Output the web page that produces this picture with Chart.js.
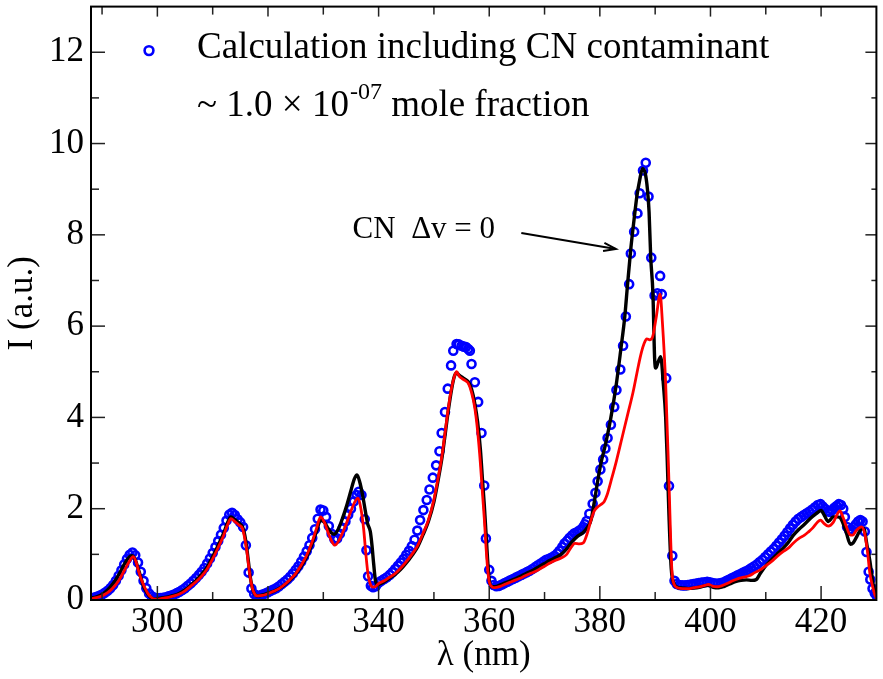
<!DOCTYPE html>
<html>
<head>
<meta charset="utf-8">
<script src="https://cdn.jsdelivr.net/npm/chart.js@4.4.1/dist/chart.umd.min.js"></script>
<style>
  html, body { margin: 0; padding: 0; background: #fff; }
  #wrap { width: 883px; height: 679px; }
</style>
</head>
<body>
<div id="wrap"><canvas id="spec" width="883" height="679"></canvas></div>
<script>
// 축 눈금
const xTicks = [300, 320, 340, 360, 380, 400, 420];
const xMinorTicks = [290, 310, 330, 350, 370, 390, 410];
const yTicks = [0, 2, 4, 6, 8, 10, 12];
const yMinorTicks = [1, 3, 5, 7, 9, 11];

// 검은 선 (CN 포함 계산)
const blackLambda = [288,289,290,291,292,293,294,294.8,295.4,296,296.5,297,297.5,298,298.5,299,299.5,300,
  301,302,303,304,305,306,307,308,309,310,311,312,312.7,313.3,314,314.8,315.4,315.8,316.2,316.5,316.8,317.2,317.6,318,319,320,
  321,322,323,324,325,326,327,328,328.8,329.5,330.2,330.8,331.4,332,332.7,333.5,334.3,335,335.6,336.1,336.6,337.1,337.6,338,338.5,338.8,339.1,339.4,339.8,340.2,
  341,342,343,344,345,346,347,348,349,350,350.8,351.5,352,352.6,353.2,353.7,354.1,354.6,355.1,355.6,356.2,356.8,357.4,357.9,358.4,358.8,359.1,359.4,359.7,360,360.4,
  361,362,363,364,365,366,367,368,369,370,371,372,373,374,375,376,377,377.8,378.4,379,379.6,380.2,381,382,383,383.8,384.5,385,385.6,386.2,386.7,387.2,387.7,388.2,388.6,388.9,389.2,389.6,389.9,390.1,390.5,391,391.5,391.9,392.2,392.5,392.9,393.4,394,
  395,396,397,398,399,399.6,400.5,401.5,402.5,403.5,404.5,405.5,406.5,407.5,408.3,409,410,411,412,413,414,415,416,417,418,419,420,420.6,421.3,422.2,423,423.6,424.5,425.3,425.8,426.5,427.2,427.7,428.3,428.8,429.4,430];
const blackI = [0.04,0.07,0.12,0.22,0.36,0.55,0.78,0.93,0.97,0.88,0.7,0.5,0.3,0.18,0.09,0.04,0.02,0.03,
  0.05,0.07,0.1,0.15,0.22,0.32,0.43,0.56,0.72,0.95,1.2,1.47,1.7,1.82,1.76,1.68,1.6,1.42,1.1,0.8,0.5,0.25,0.13,0.09,0.11,0.15,
  0.19,0.25,0.33,0.44,0.57,0.74,0.95,1.24,1.52,1.75,1.7,1.58,1.48,1.44,1.55,1.8,2.1,2.4,2.65,2.74,2.58,2.3,1.95,1.68,1.5,1.2,0.8,0.45,0.33,0.35,
  0.4,0.48,0.56,0.67,0.81,0.97,1.15,1.42,1.72,2.15,2.65,3.15,3.6,4.15,4.62,4.9,4.98,4.92,4.88,4.84,4.78,4.62,4.3,3.9,3.3,2.6,2.1,1.5,0.9,0.45,0.3,
  0.29,0.33,0.38,0.43,0.48,0.54,0.6,0.66,0.73,0.8,0.87,0.93,1.0,1.12,1.28,1.4,1.48,1.6,1.75,2.15,2.6,3.0,3.4,4.0,4.75,5.5,6.2,6.9,7.7,8.35,8.85,9.2,9.45,9.35,9.0,8.5,7.5,6.7,5.3,5.08,5.2,5.33,4.7,4.0,3.0,1.85,0.7,0.36,0.28,
  0.26,0.25,0.26,0.28,0.31,0.32,0.28,0.27,0.3,0.35,0.4,0.43,0.44,0.43,0.45,0.58,0.75,0.88,1.0,1.12,1.25,1.42,1.55,1.66,1.78,1.88,1.96,1.85,1.72,1.82,1.82,1.78,1.5,1.22,1.25,1.4,1.55,1.57,1.2,0.87,0.35,0.07];

// 빨간 선
const redLambda = [288,289,290,291,292,293,294,295,295.6,296.1,296.5,297,297.7,298.3,298.9,299.5,300,
  301,302,303,304,305,306,307,308,309,310,311,312,312.7,313.3,314,314.8,315.4,315.8,316.2,316.5,316.8,317.2,317.6,318,319,320,
  321,322,323,324,325,326,327,328,328.8,329.5,330.2,330.8,331.4,332.1,332.8,333.5,334.3,335,335.7,336.3,336.8,337.3,337.7,338.1,338.5,339,339.5,340,
  341,342,343,344,345,346,347,348,349,350,350.8,351.5,352,352.6,353.2,353.7,354.1,354.6,355.1,355.6,356.2,356.8,357.4,357.9,358.4,358.8,359.1,359.4,359.7,360,360.4,
  361,362,363,364,365,366,367,368,369,370,371,372,373,374,374.8,375.5,376.3,377,377.7,378.4,379,379.6,380.3,380.8,381.3,382,383,384,385,386,387,387.5,388,388.5,389,389.5,390.2,390.9,391.3,391.9,392.5,393,393.4,394,
  395,396,397,398,399,399.6,400.5,401.2,402,403,404,405,406,407,408,409,410,411,412,413,414,415,416,417,417.7,418.5,419.3,419.9,420.5,421.3,422.2,422.8,423.4,424,424.6,425.3,425.7,426.4,427.3,427.9,428.4,428.8,429.3,429.7,430.1];
const redI = [0.03,0.05,0.09,0.16,0.27,0.42,0.64,0.86,0.95,0.85,0.68,0.48,0.28,0.14,0.06,0.02,0.02,
  0.04,0.06,0.09,0.13,0.2,0.3,0.4,0.52,0.68,0.9,1.15,1.42,1.65,1.78,1.72,1.64,1.56,1.35,1.05,0.75,0.48,0.25,0.13,0.09,0.1,0.14,
  0.19,0.25,0.34,0.45,0.58,0.76,0.98,1.28,1.58,1.82,1.7,1.5,1.32,1.2,1.3,1.48,1.72,1.95,2.15,2.23,2.0,1.55,1.0,0.55,0.35,0.28,0.3,0.36,
  0.42,0.5,0.58,0.7,0.84,1.0,1.18,1.45,1.75,2.2,2.7,3.2,3.65,4.2,4.65,4.9,5.0,4.9,4.85,4.81,4.75,4.55,4.2,3.7,3.0,2.3,1.8,1.2,0.7,0.4,0.3,
  0.27,0.3,0.35,0.4,0.45,0.5,0.56,0.61,0.67,0.74,0.81,0.87,0.92,1.0,1.15,1.24,1.23,1.25,1.45,1.75,1.95,2.04,2.1,2.16,2.3,2.6,3.05,3.55,4.05,4.55,5.15,5.42,5.62,5.72,5.7,5.75,6.2,6.7,6.1,4.74,2.56,0.7,0.35,0.27,
  0.25,0.25,0.27,0.29,0.32,0.34,0.3,0.29,0.31,0.36,0.42,0.47,0.5,0.53,0.6,0.66,0.75,0.84,0.95,1.05,1.13,1.25,1.35,1.42,1.49,1.58,1.7,1.75,1.68,1.62,1.7,1.85,1.95,1.8,1.6,1.42,1.42,1.53,1.6,1.45,1.05,0.6,0.3,0.12,0.02];

// 파란 원 (CN 오염 포함 계산)
const blueLambda = [288.1,288.5,289,289.5,290,290.5,291,291.5,292,292.5,293,293.5,294,294.5,295,295.5,296,296.5,297,297.5,298,298.5,299,299.5,300,
  300.5,301,301.5,302,302.5,303,303.5,304,304.5,305,305.5,306,306.5,307,307.5,308,308.5,309,309.5,310,310.5,311,311.5,312,312.5,313,313.5,314,314.5,315,315.5,316,316.5,317,317.5,318,
  318.5,319,319.5,320,320.5,321,321.5,322,322.5,323,323.5,324,324.5,325,325.5,326,326.5,327,327.5,328,328.5,329,329.5,330,330.5,331,331.5,332,332.5,333,333.5,334,334.5,335,335.5,336,336.4,336.9,337.5,337.8,338.1,338.6,339,339.5,340,
  340.5,341,341.5,342,342.5,343,343.5,344,344.5,345,345.5,346,346.5,347,347.5,348.1,348.7,349.2,349.8,350.4,351,351.4,352,352.5,353.1,353.5,354.1,354.5,355,355.4,355.8,356.2,356.5,356.8,357.4,358,358.6,359.1,359.4,360,360.4,
  360.8,361.3,361.8,362.3,362.8,363.3,363.8,364.3,364.8,365.3,365.8,366.3,366.8,367.3,367.8,368.3,368.8,369.3,369.8,370.3,370.8,371.3,371.8,372.3,372.7,373.2,373.6,374.1,374.5,375,375.4,375.9,376.3,376.7,377,377.3,377.6,378.1,378.7,379.2,379.6,380.1,380.6,381,381.4,382,382.6,383,383.7,384.2,384.7,385.3,385.6,386.2,386.8,387.2,387.8,388.3,388.8,389.3,389.9,390.4,390.9,391.2,392,392.5,393.1,393.5,393.9,
  394.4,394.9,395.4,395.9,396.4,396.9,397.4,397.9,398.4,398.9,399.4,399.9,400.4,400.9,401.4,401.9,402.4,402.9,403.4,403.9,404.4,404.9,405.4,405.9,406.4,406.9,407.4,407.9,408.4,408.9,409.4,409.9,410.4,410.9,411.4,411.9,412.4,412.9,413.4,413.9,414.4,414.9,415.4,415.9,416.4,416.9,417.4,417.9,418.4,418.9,419.4,419.9,420.3,420.7,421.2,421.6,422,422.4,422.8,423.2,423.6,424,424.3,424.7,425.1,425.5,425.9,426.3,426.7,427.1,427.5,427.9,428.2,428.6,428.9,429.3,429.7,430.1];
const blueI = [0.04,0.05,0.07,0.09,0.12,0.16,0.2,0.26,0.33,0.42,0.53,0.65,0.78,0.9,0.99,1.04,0.98,0.82,0.62,0.42,0.26,0.14,0.08,0.05,0.04,
  0.04,0.05,0.06,0.08,0.1,0.12,0.15,0.18,0.22,0.26,0.31,0.36,0.42,0.48,0.55,0.62,0.7,0.8,0.91,1.03,1.16,1.29,1.43,1.58,1.74,1.87,1.91,1.86,1.77,1.7,1.6,1.2,0.6,0.25,0.13,0.09,
  0.1,0.12,0.14,0.17,0.2,0.23,0.26,0.3,0.35,0.4,0.45,0.51,0.58,0.66,0.74,0.84,0.95,1.07,1.2,1.36,1.55,1.78,1.98,1.96,1.82,1.62,1.45,1.33,1.35,1.45,1.58,1.72,1.87,2.0,2.16,2.3,2.37,2.3,1.77,1.09,0.52,0.31,0.28,0.3,0.38,
  0.42,0.46,0.5,0.55,0.61,0.68,0.75,0.82,0.9,0.99,1.08,1.18,1.32,1.52,1.75,1.97,2.19,2.42,2.68,2.95,3.26,3.66,4.12,4.63,5.14,5.46,5.61,5.6,5.57,5.55,5.54,5.5,5.46,5.17,4.77,4.34,3.66,2.51,1.35,0.66,0.42,
  0.33,0.3,0.31,0.34,0.37,0.4,0.43,0.46,0.49,0.52,0.55,0.58,0.61,0.64,0.68,0.72,0.76,0.8,0.84,0.88,0.9,0.93,0.97,1.02,1.08,1.16,1.24,1.3,1.36,1.42,1.46,1.49,1.52,1.55,1.6,1.66,1.73,1.89,2.11,2.35,2.6,2.86,3.08,3.32,3.55,3.84,4.23,4.6,5.05,5.57,6.21,6.92,7.59,8.07,8.47,8.91,9.41,9.58,8.84,7.5,6.67,6.72,7.1,6.7,4.86,2.5,0.97,0.42,0.35,
  0.33,0.32,0.32,0.33,0.34,0.35,0.36,0.37,0.38,0.39,0.4,0.39,0.37,0.36,0.36,0.37,0.39,0.42,0.45,0.48,0.51,0.54,0.57,0.6,0.63,0.66,0.7,0.74,0.78,0.83,0.88,0.94,1.0,1.06,1.12,1.19,1.26,1.33,1.41,1.49,1.57,1.65,1.72,1.78,1.82,1.86,1.9,1.94,1.98,2.03,2.08,2.1,2.05,2.0,1.95,1.93,1.97,2.02,2.06,2.1,2.08,2.0,1.82,1.6,1.52,1.55,1.6,1.66,1.72,1.75,1.72,1.5,1.05,0.62,0.45,0.25,0.15,0.08];

// 화살표 주석 위치 (데이터 좌표)
const noteText = 'CN  \u0394v = 0';
const notePos = [335.3, 7.94];
const arrowFrom = [365.8, 8.04];
const arrowTo = [382.9, 7.69];

const SERIF = '"Liberation Serif", "Times New Roman", serif';

function toXY(xs, ys) {
  return xs.map((x, i) => ({ x, y: ys[i] }));
}

// 안쪽으로 향하는 눈금 + 테두리
const frameTicks = {
  id: 'frameTicks',
  afterDraw(chart) {
    const { ctx, chartArea: a, scales: { x, y } } = chart;
    ctx.save();
    ctx.strokeStyle = '#222';
    ctx.lineWidth = 1.5;
    const seg = (x1, y1, x2, y2) => { ctx.beginPath(); ctx.moveTo(x1, y1); ctx.lineTo(x2, y2); ctx.stroke(); };
    xTicks.forEach(v => { const p = x.getPixelForValue(v); seg(p, a.bottom, p, a.bottom - 14); seg(p, a.top, p, a.top + 10); });
    xMinorTicks.forEach(v => { const p = x.getPixelForValue(v); seg(p, a.bottom, p, a.bottom - 8); seg(p, a.top, p, a.top + 8); });
    yTicks.forEach(v => { const p = y.getPixelForValue(v); seg(a.left, p, a.left + 14, p); seg(a.right, p, a.right - 11, p); });
    yMinorTicks.forEach(v => { const p = y.getPixelForValue(v); seg(a.left, p, a.left + 8, p); seg(a.right, p, a.right - 5, p); });
    ctx.strokeStyle = '#000';
    ctx.lineWidth = 2;
    ctx.strokeRect(a.left, a.top, a.right - a.left, a.bottom - a.top);
    ctx.restore();
  }
};

// 범례 + 주석
const notes = {
  id: 'notes',
  afterDraw(chart) {
    const { ctx, chartArea: a, scales: { x, y } } = chart;
    ctx.save();
    ctx.fillStyle = '#000';
    ctx.textBaseline = 'alphabetic';
    ctx.textAlign = 'left';

    // 범례
    const lx = a.left + 58, ly = a.top + 44;
    ctx.strokeStyle = '#0000ff';
    ctx.lineWidth = 2.6;
    ctx.beginPath(); ctx.arc(lx, ly, 4.4, 0, Math.PI * 2); ctx.stroke();
    ctx.font = '37px ' + SERIF;
    ctx.fillText('Calculation including CN contaminant', a.left + 106, a.top + 51);
    let tx = a.left + 106;
    const by = a.top + 109;
    ctx.fillText('~ 1.0 \u00d7 10', tx, by);
    tx += ctx.measureText('~ 1.0 \u00d7 10').width;
    ctx.font = '24px ' + SERIF;
    ctx.fillText('-07', tx + 1, by - 17);
    tx += ctx.measureText('-07').width + 1;
    ctx.font = '37px ' + SERIF;
    ctx.fillText(' mole fraction', tx, by);

    // CN 주석 + 화살표
    ctx.font = '31px ' + SERIF;
    ctx.fillText(noteText, x.getPixelForValue(notePos[0]), y.getPixelForValue(notePos[1]));
    const x1 = x.getPixelForValue(arrowFrom[0]), y1 = y.getPixelForValue(arrowFrom[1]);
    const x2 = x.getPixelForValue(arrowTo[0]), y2 = y.getPixelForValue(arrowTo[1]);
    ctx.strokeStyle = '#000';
    ctx.lineWidth = 2;
    ctx.beginPath(); ctx.moveTo(x1, y1); ctx.lineTo(x2, y2); ctx.stroke();
    const ang = Math.atan2(y2 - y1, x2 - x1);
    ctx.beginPath();
    ctx.moveTo(x2 - 13 * Math.cos(ang - 0.32), y2 - 13 * Math.sin(ang - 0.32));
    ctx.lineTo(x2, y2);
    ctx.lineTo(x2 - 13 * Math.cos(ang + 0.32), y2 - 13 * Math.sin(ang + 0.32));
    ctx.stroke();
    ctx.restore();
  }
};

new Chart(document.getElementById('spec').getContext('2d'), {
  type: 'scatter',
  data: {
    datasets: [
      { label: 'red', data: toXY(redLambda, redI), showLine: true, borderColor: '#ff0000', borderWidth: 2.8,
        pointRadius: 0, cubicInterpolationMode: 'monotone', order: 1 },
      { label: 'black', data: toXY(blackLambda, blackI), showLine: true, borderColor: '#000000', borderWidth: 3.4,
        pointRadius: 0, cubicInterpolationMode: 'monotone', order: 2 },
      { label: 'Calculation including CN contaminant', data: toXY(blueLambda, blueI), showLine: false,
        pointStyle: 'circle', pointRadius: 4, pointBorderWidth: 2.6, pointBorderColor: '#0000ff',
        pointBackgroundColor: 'rgba(0,0,0,0)', order: 3 }
    ]
  },
  options: {
    responsive: false,
    animation: false,
    devicePixelRatio: 1,
    layout: { padding: { left: 0, right: 3, top: 6, bottom: 0 } },
    plugins: { legend: { display: false }, tooltip: { enabled: false } },
    scales: {
      x: {
        type: 'linear', min: 288, max: 430,
        afterBuildTicks: s => { s.ticks = xTicks.map(v => ({ value: v })); },
        afterFit: s => { s.height = 79; s.paddingLeft = 0; s.paddingRight = 0; },
        grid: { display: false, drawTicks: false },
        border: { display: false },
        ticks: { color: '#000', font: { family: SERIF, size: 35 }, padding: 2, maxRotation: 0 },
        title: { display: true, text: '\u03bb (nm)', color: '#000', font: { family: SERIF, size: 35 }, padding: { top: 0, bottom: 2 } }
      },
      y: {
        type: 'linear', min: 0, max: 13,
        afterBuildTicks: s => { s.ticks = yTicks.map(v => ({ value: v })); },
        afterFit: s => { s.width = 91; s.paddingTop = 0; s.paddingBottom = 0; },
        grid: { display: false, drawTicks: false },
        border: { display: false },
        ticks: { color: '#000', font: { family: SERIF, size: 35 }, padding: 7 },
        title: { display: true, text: 'I (a.u.)', color: '#000', font: { family: SERIF, size: 35 }, padding: { top: 2, bottom: 0 } }
      }
    }
  },
  plugins: [frameTicks, notes]
});
</script>
</body>
</html>
